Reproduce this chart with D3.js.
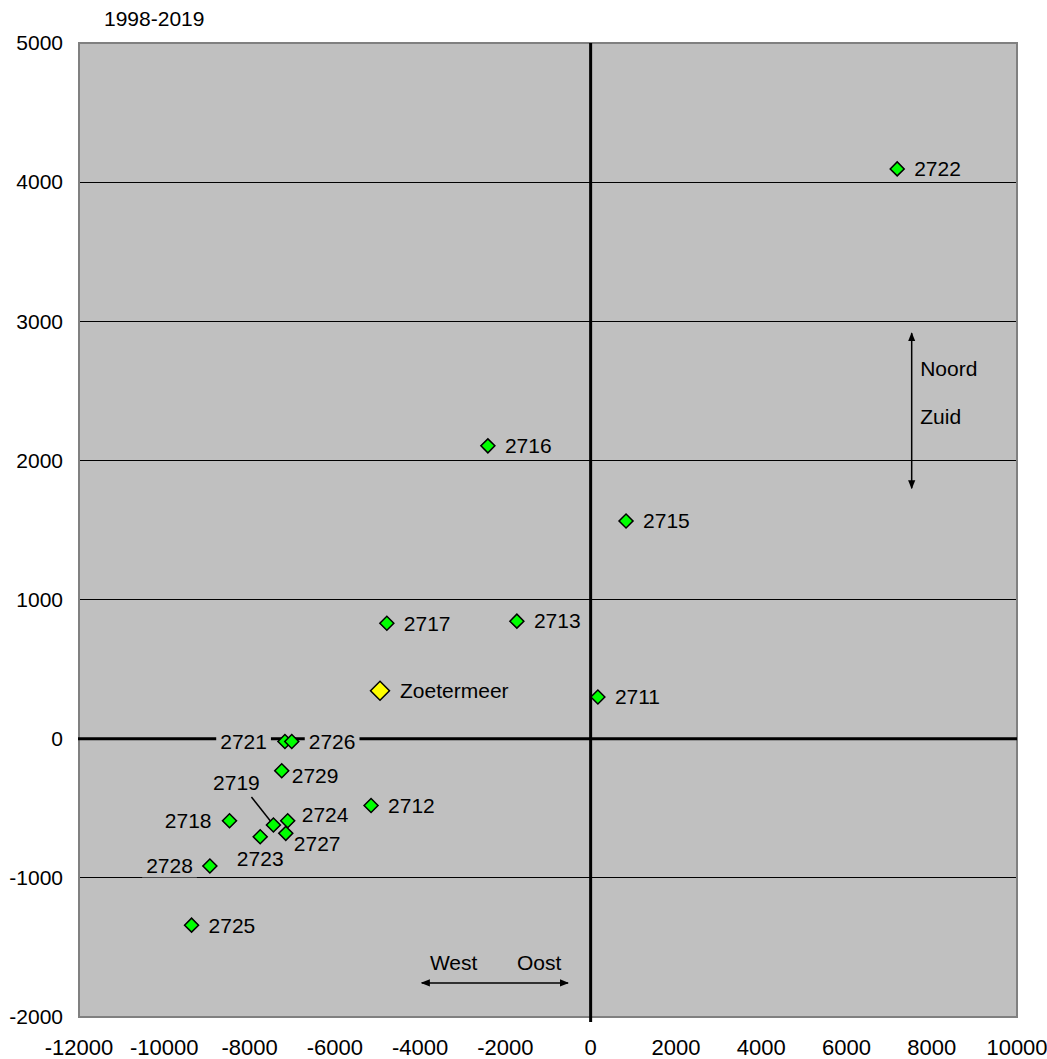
<!DOCTYPE html>
<html>
<head>
<meta charset="utf-8">
<script src="https://cdn.jsdelivr.net/npm/d3@7"></script>
<style>
  body { margin: 0; background: #fff; }
  text { font-family: "Liberation Sans", Arial, sans-serif; font-size: 21px; fill: #000; }
  .xtick { font-size: 22px; }
</style>
</head>
<body>
<div id="chart"></div>
<script>
// Data: postcode areas, shift west/east (x) and south/north (y)
const names = ["2722", "2716", "2715", "2717", "2713", "Zoetermeer", "2711", "2721", "2726",
  "2729", "2712", "2718", "2719", "2724", "2727", "2723", "2728", "2725"];
const xValues = [7190, -2410, 830, -4780, -1730, -4940, 170, -7170, -7010,
  -7245, -5150, -8470, -7440, -7105, -7150, -7750, -8930, -9360];
const yValues = [4095, 2105, 1565, 830, 845, 345, 300, -20, -20,
  -230, -480, -590, -620, -590, -680, -705, -915, -1340];
const xTicks = [-12000, -10000, -8000, -6000, -4000, -2000, 0, 2000, 4000, 6000, 8000, 10000];
const yTicks = [-2000, -1000, 0, 1000, 2000, 3000, 4000, 5000];
const title = "1998-2019";

// label placement (pixel offsets from point)
const labelPos = {
  "2721": [-18, 0, "end"],
  "2718": [-18, 0, "end"],
  "2728": [-17, 0, "end"],
  "2719": [-37, -42, "middle"],
  "2723": [0, 22, "middle"],
  "2729": [10, 5, "start"],
  "2724": [14, -6, "start"],
  "2727": [8, 10, "start"],
  "Zoetermeer": [20, 0, "start"]
};

const width = 1047, height = 1059;
const margin = { top: 43, right: 30, bottom: 42, left: 79 };

const svg = d3.select("#chart").append("svg")
  .attr("width", width)
  .attr("height", height);

const x = d3.scaleLinear().domain([-12000, 10000]).range([margin.left, width - margin.right]);
const y = d3.scaleLinear().domain([-2000, 5000]).range([height - margin.bottom, margin.top]);

// plot background
svg.append("rect")
  .attr("x", x(-12000)).attr("y", y(5000))
  .attr("width", x(10000) - x(-12000))
  .attr("height", y(-2000) - y(5000))
  .attr("fill", "#c0c0c0");

// horizontal gridlines
svg.append("g").selectAll("line")
  .data(yTicks.filter(d => d !== 0 && d !== -2000 && d !== 5000))
  .join("line")
  .attr("x1", x(-12000)).attr("x2", x(10000))
  .attr("y1", d => y(d)).attr("y2", d => y(d))
  .attr("stroke", "#000")
  .attr("stroke-width", 1)
  .attr("shape-rendering", "crispEdges");

// plot border
svg.append("rect")
  .attr("x", x(-12000)).attr("y", y(5000))
  .attr("width", x(10000) - x(-12000))
  .attr("height", y(-2000) - y(5000))
  .attr("fill", "none")
  .attr("stroke", "#808080")
  .attr("stroke-width", 2);

// zero axes
svg.append("line")
  .attr("x1", x(-12000) - 1).attr("x2", x(10000))
  .attr("y1", y(0)).attr("y2", y(0))
  .attr("stroke", "#000").attr("stroke-width", 3);
svg.append("line")
  .attr("x1", x(0)).attr("x2", x(0))
  .attr("y1", y(5000)).attr("y2", y(-2000) + 5)
  .attr("stroke", "#000").attr("stroke-width", 3);

// tick labels
svg.append("g").selectAll("text")
  .data(yTicks)
  .join("text")
  .attr("x", x(-12000) - 16)
  .attr("y", d => y(d))
  .attr("dy", "0.35em")
  .attr("text-anchor", "end")
  .text(d => d);

svg.append("g").selectAll("text")
  .data(xTicks)
  .join("text")
  .attr("class", "xtick")
  .attr("x", d => x(d))
  .attr("y", y(-2000) + 30)
  .attr("dy", "0.35em")
  .attr("text-anchor", "middle")
  .text(d => d);

svg.append("text")
  .attr("x", 104)
  .attr("y", 19)
  .attr("dy", "0.35em")
  .text(title);

// direction arrows
const defs = svg.append("defs");
defs.append("marker")
  .attr("id", "arrow")
  .attr("viewBox", "0 0 10 10")
  .attr("refX", 9).attr("refY", 5)
  .attr("markerWidth", 9).attr("markerHeight", 9)
  .attr("markerUnits", "userSpaceOnUse")
  .attr("orient", "auto-start-reverse")
  .append("path")
  .attr("d", "M0,1L10,5L0,9Z")
  .attr("fill", "#000");

svg.append("line")
  .attr("x1", x(-3960)).attr("x2", x(-530))
  .attr("y1", y(-1755)).attr("y2", y(-1755))
  .attr("stroke", "#000").attr("stroke-width", 1.5)
  .attr("marker-start", "url(#arrow)")
  .attr("marker-end", "url(#arrow)");
svg.append("text").attr("x", x(-3770)).attr("y", y(-1612)).attr("dy", "0.35em").text("West");
svg.append("text").attr("x", x(-1730)).attr("y", y(-1612)).attr("dy", "0.35em").text("Oost");

svg.append("line")
  .attr("x1", x(7530)).attr("x2", x(7530))
  .attr("y1", y(2915)).attr("y2", y(1800))
  .attr("stroke", "#000").attr("stroke-width", 1.5)
  .attr("marker-start", "url(#arrow)")
  .attr("marker-end", "url(#arrow)");
svg.append("text").attr("x", x(7730)).attr("y", y(2657)).attr("dy", "0.35em").text("Noord");
svg.append("text").attr("x", x(7730)).attr("y", y(2314)).attr("dy", "0.35em").text("Zuid");

// points
const points = names.map((n, i) => ({ name: n, x: xValues[i], y: yValues[i] }));

// data labels with background
const labels = svg.append("g").selectAll("g")
  .data(points)
  .join("g")
  .attr("transform", d => {
    const p = labelPos[d.name] || [17, 0, "start"];
    return `translate(${x(d.x) + p[0]},${y(d.y) + p[1]})`;
  });

labels.append("text")
  .attr("dy", "0.35em")
  .attr("text-anchor", d => (labelPos[d.name] || [0, 0, "start"])[2])
  .text(d => d.name);

labels.each(function () {
  const g = d3.select(this);
  const bb = g.select("text").node().getBBox();
  g.insert("rect", "text")
    .attr("x", bb.x - 4).attr("y", bb.y)
    .attr("width", bb.width + 8).attr("height", bb.height)
    .attr("fill", "#c0c0c0");
});

// leader line for 2719
const p19 = points.find(d => d.name === "2719");
svg.append("line")
  .attr("x1", x(p19.x) - 22).attr("y1", y(p19.y) - 28)
  .attr("x2", x(p19.x) - 3).attr("y2", y(p19.y) - 4)
  .attr("stroke", "#000").attr("stroke-width", 1.5);

svg.append("g").selectAll("path")
  .data(points)
  .join("path")
  .attr("transform", d => `translate(${x(d.x)},${y(d.y)}) rotate(45)`)
  .attr("d", d => d3.symbol(d3.symbolSquare, d.name === "Zoetermeer" ? 180 : 98)())
  .attr("fill", d => d.name === "Zoetermeer" ? "#ffff00" : "#00ff00")
  .attr("stroke", "#000")
  .attr("stroke-width", 1.5);
</script>
</body>
</html>
